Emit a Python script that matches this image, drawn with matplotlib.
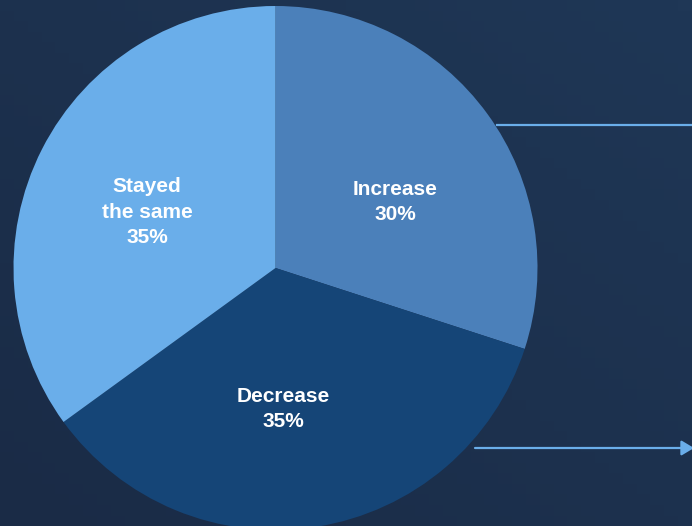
import matplotlib.pyplot as plt
import numpy as np
from matplotlib.colors import LinearSegmentedColormap

categories = ["Increase", "Decrease", "Stayed\nthe same"]
shares = [30, 35, 35]
colors = ["#4b80ba", "#154577", "#6aaeea"]

W, H = 692, 526
fig = plt.figure(figsize=(W / 100, H / 100), dpi=100)
ax = fig.add_axes([0, 0, 1, 1])

# dark navy backdrop, a touch lighter towards the upper right
bg = LinearSegmentedColormap.from_list("bg", ["#1a2b46", "#1f3756"])
yy, xx = np.mgrid[0:1:50j, 0:1:50j]
ax.imshow(0.5 * xx + 0.5 * yy, cmap=bg, extent=[0, W, 0, H], origin="lower",
          aspect="auto", zorder=0)

cx, cy, r = 275.5, H - 268, 262
wedges, _ = ax.pie(shares, colors=colors, startangle=90, counterclock=False,
                   center=(cx, cy), radius=r, wedgeprops=dict(linewidth=0))
for w in wedges:
    w.set_zorder(1)

label_pos = [(395, H - 202), (283, H - 409), (147, H - 212)]
for name, val, (x, y) in zip(categories, shares, label_pos):
    ax.text(x, y, f"{name}\n{val}%", ha="center", va="center", color="white",
            fontsize=15, fontweight="bold", family="Liberation Sans",
            linespacing=1.42, zorder=3)

# connector line and arrow on the right
ax.plot([497, W], [H - 124.5, H - 124.5], color="#6aaeea", lw=1.6, zorder=2)
ax.annotate("", xy=(W + 2, H - 448), xytext=(475, H - 448),
            arrowprops=dict(arrowstyle="-|>,head_length=0.75,head_width=0.45",
                            color="#6aaeea", lw=1.6, shrinkA=0, shrinkB=0),
            zorder=2, annotation_clip=False)

ax.set_xlim(0, W)
ax.set_ylim(0, H)
ax.set_aspect("auto")
ax.axis("off")
fig.savefig("out.png", dpi=100)
